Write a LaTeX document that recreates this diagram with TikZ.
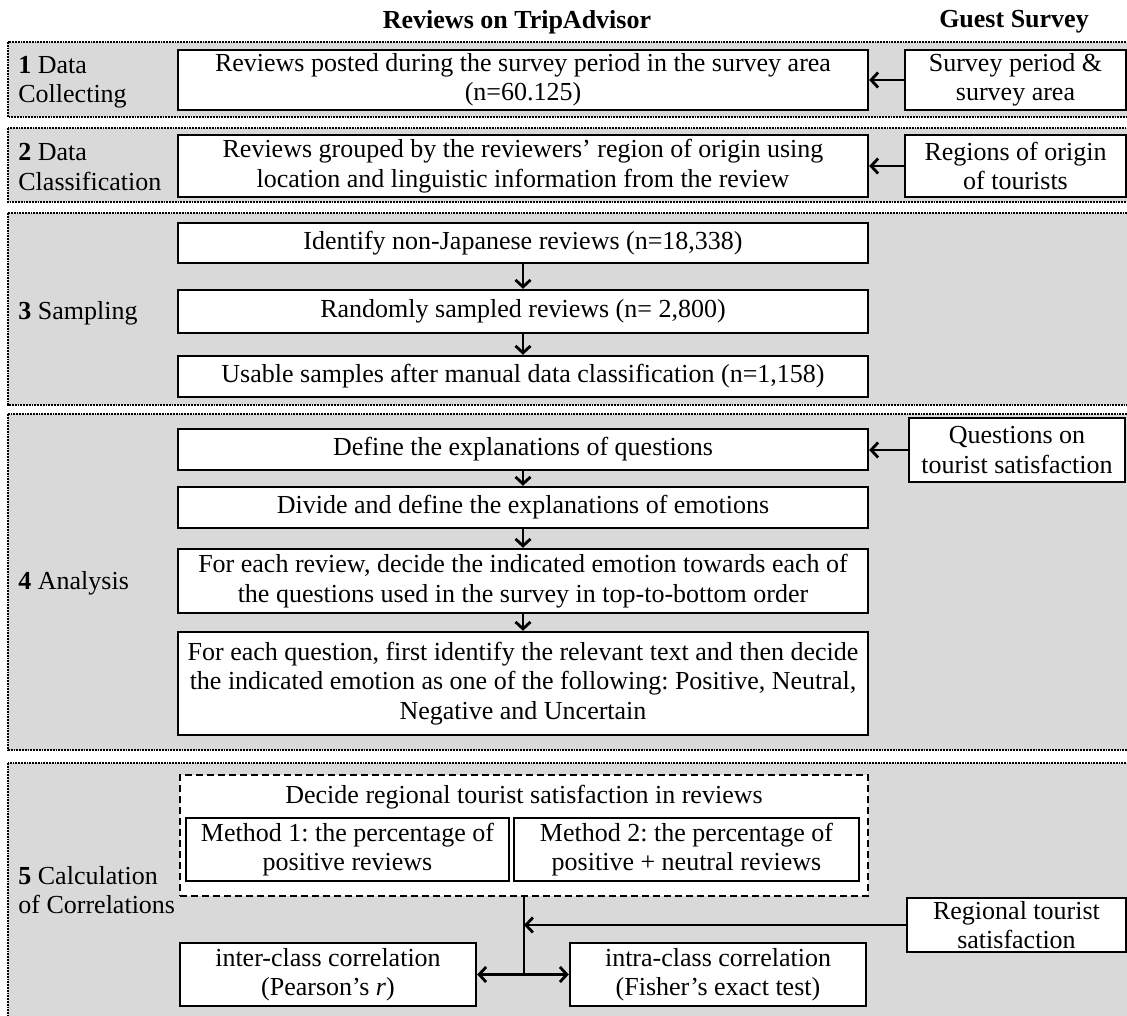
\documentclass[tikz,border=0pt]{standalone}
\usepackage{fontspec}
\setmainfont{Liberation Serif}
\usetikzlibrary{arrows.meta}
\frenchspacing

\begin{document}
\begin{tikzpicture}[x=1pt,y=-1pt,-,>={Straight Barb[length=7pt,width=15pt]},line width=2.8pt,
    box/.style={rectangle,draw,fill=white,line width=2.4pt,align=center,inner sep=1pt,minimum width=690pt,font=\fontsize{26}{29.5}\selectfont},
    side/.style={box,minimum width=221pt},
    sec/.style={fill=black!15,draw=black,densely dotted,line width=1.8pt},
    lbl/.style={anchor=west,align=left,inner sep=0pt,font=\fontsize{26}{29.5}\selectfont},
    head/.style={font=\fontsize{26}{29.5}\selectfont\bfseries}]

            \useasboundingbox (0,0) rectangle (1127,1016);
            \clip (0,0) rectangle (1127,1016);

            % stages
            \draw[sec] (8,42) rectangle (1140,117);
            \draw[sec] (8,128) rectangle (1140,202);
            \draw[sec] (8,213) rectangle (1140,405);
            \draw[sec] (8,414) rectangle (1140,750);
            \draw[sec] (8,763) rectangle (1140,1030);

            \node[head] (h1) at (517,22) {Reviews on TripAdvisor};
            \node[head] (h2) at (1014,22) {Guest Survey};

            \node[lbl] (s1) at (17,82) {\textbf{1} Data\\Collecting};
            \node[lbl] (s2) at (17,167) {\textbf{2} Data\\Classification};
            \node[lbl] (s3) at (17,313) {\textbf{3} Sampling};
            \node[lbl] (s4) at (17,583) {\textbf{4} Analysis};
            \node[lbl] (s5) at (17,890) {\textbf{5} Calculation\\of Correlations};

            % main column
            \node[box, minimum height=60pt] (1) at (523,80) {Reviews posted during the survey period in the survey area\\(n=60.125)};
            \node[box, minimum height=62pt] (2) [below of = 1, node distance=86pt] {Reviews grouped by the reviewers’ region of origin using\\location and linguistic information from the review};
            \node[box, minimum height=40pt] (3) [below of = 2, node distance=77pt] {Identify non-Japanese reviews (n=18,338)};
            \node[box, minimum height=43pt] (4) [below of = 3, node distance=68.5pt] {Randomly sampled reviews (n= 2,800)};
            \node[box, minimum height=41pt] (5) [below of = 4, node distance=65pt] {Usable samples after manual data classification (n=1,158)};
            \node[box, minimum height=41pt] (6) [below of = 5, node distance=73pt] {Define the explanations of questions};
            \node[box, minimum height=41pt] (7) [below of = 6, node distance=58pt] {Divide and define the explanations of emotions};
            \node[box, minimum height=64pt] (8) [below of = 7, node distance=73.5pt] {For each review, decide the indicated emotion towards each of\\the questions used in the survey in top-to-bottom order};
            \node[box, minimum height=103pt] (9) [below of = 8, node distance=102.5pt] {For each question, first identify the relevant text and then decide\\the indicated emotion as one of the following: Positive, Neutral,\\Negative and Uncertain};
            \node[box, dash pattern=on 7pt off 4pt, line width=2pt, minimum width=688pt, minimum height=121pt] (10) at (524,835.5) {};
            \node[font=\fontsize{26}{29.5}\selectfont] (10t) at (524,797) {Decide regional tourist satisfaction in reviews};
            \node[box, minimum width=323pt, minimum height=63pt] (11) at (347.5,849.5) {Method 1: the percentage of\\positive reviews};
            \node[box, minimum width=345pt, minimum height=63pt] (12) at (686.5,849.5) {Method 2: the percentage of\\positive + neutral reviews};
            \node[box, minimum width=296pt, minimum height=63pt] (13) at (328,974.5) {inter-class correlation\\(Pearson’s \textit{r})};
            \node[box, minimum width=296pt, minimum height=63pt] (14) at (718,974.5) {intra-class correlation\\(Fisher’s exact test)};

            % guest survey column
            \node[side, minimum height=60pt] (15) [right of = 1, node distance=492.5pt] {Survey period \&\\survey area};
            \node[side, minimum height=62pt] (16) [right of = 2, node distance=492.5pt] {Regions of origin\\of tourists};
            \node[side, minimum width=216pt, minimum height=64pt] (17) at (1017,450) {Questions on\\tourist satisfaction};
            \node[side, minimum width=219pt, minimum height=54pt] (18) at (1016.5,925) {Regional tourist\\satisfaction};

            \coordinate (j) at (10.south |- 13);

            \draw[->] (3) to (4);
            \draw[->] (4) to (5);
            \draw[->] (6) to (7);
            \draw[->] (7) to (8);
            \draw[->] (8) to (9);

            \draw[->] (15) to (1);
            \draw[->] (16) to (2);
            \draw[->] (17.west) to (17.west -| 6.east);
            \draw[->] (18) to (18 -| j);

            \draw[-] (10.south) to (j);
            \draw[->] (j) to (13);
            \draw[->] (j) to (14);

            ;
        \end{tikzpicture}
\end{document}
